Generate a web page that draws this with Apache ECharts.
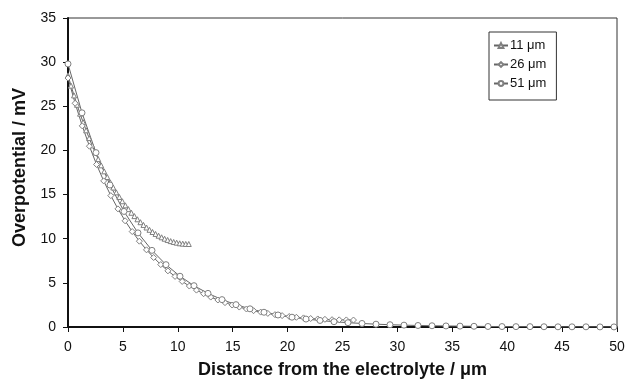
<!DOCTYPE html>
<html>
<head>
<meta charset="utf-8">
<script src="https://cdn.jsdelivr.net/npm/echarts@6/dist/echarts.min.js"></script>
<style>
  html, body { margin: 0; padding: 0; background: #fff; }
  #chart { width: 628px; height: 379px; }
</style>
</head>
<body>
<div id="chart"></div>
<script>
// 数据
var seriesNames = ['11 μm', '26 μm', '51 μm'];

var x11 = [0, 0.275, 0.55, 0.825, 1.1, 1.375, 1.65, 1.925, 2.2, 2.475, 2.75, 3.025, 3.3, 3.575, 3.85, 4.125, 4.4, 4.675, 4.95, 5.225,
    5.5, 5.775, 6.05, 6.325, 6.6, 6.875, 7.15, 7.425, 7.7, 7.975, 8.25, 8.525, 8.8, 9.075, 9.35, 9.625, 9.9, 10.175, 10.45, 10.725, 11];
var y11 = [28.5, 27.34, 26.23, 25.17, 24.16, 23.2, 22.28, 21.4, 20.57, 19.78, 19.02, 18.31, 17.63, 16.99, 16.38, 15.8, 15.25, 14.73, 14.24, 13.78,
    13.35, 12.94, 12.56, 12.2, 11.87, 11.56, 11.27, 11.01, 10.76, 10.54, 10.34, 10.16, 10.0, 9.86, 9.73, 9.63, 9.55, 9.48, 9.44, 9.41, 9.4];

var x26 = [0, 0.65, 1.3, 1.95, 2.6, 3.25, 3.9, 4.55, 5.2, 5.85, 6.5, 7.15, 7.8, 8.45, 9.1, 9.75, 10.4, 11.05, 11.7, 12.35,
    13, 13.65, 14.3, 14.95, 15.6, 16.25, 16.9, 17.55, 18.2, 18.85, 19.5, 20.15, 20.8, 21.45, 22.1, 22.75, 23.4, 24.05, 24.7, 25.35, 26];
var y26 = [28.2, 25.34, 22.78, 20.48, 18.41, 16.55, 14.88, 13.38, 12.03, 10.81, 9.72, 8.74, 7.87, 7.07, 6.36, 5.73, 5.16, 4.64, 4.18, 3.77,
    3.39, 3.06, 2.76, 2.49, 2.26, 2.04, 1.85, 1.69, 1.54, 1.4, 1.29, 1.19, 1.1, 1.03, 0.96, 0.91, 0.87, 0.83, 0.81, 0.8, 0.79];

var x51 = [0, 1.275, 2.55, 3.825, 5.1, 6.375, 7.65, 8.925, 10.2, 11.475, 12.75, 14.025, 15.3, 16.575, 17.85, 19.125, 20.4, 21.675, 22.95, 24.225,
    25.5, 26.775, 28.05, 29.325, 30.6, 31.875, 33.15, 34.425, 35.7, 36.975, 38.25, 39.525, 40.8, 42.075, 43.35, 44.625, 45.9, 47.175, 48.45, 49.725, 51];
var y51 = [29.8, 24.26, 19.75, 16.08, 13.09, 10.66, 8.68, 7.06, 5.75, 4.68, 3.81, 3.1, 2.53, 2.06, 1.67, 1.36, 1.11, 0.9, 0.74, 0.6,
    0.49, 0.4, 0.32, 0.26, 0.21, 0.17, 0.14, 0.12, 0.1, 0.08, 0.06, 0.05, 0.04, 0.04, 0.03, 0.02, 0.02, 0.02, 0.01, 0.01, 0.01];

function pairs(xs, ys) {
    var out = [];
    for (var i = 0; i < xs.length; i++) {
        out.push([xs[i], ys[i]]);
    }
    return out;
}

var chart = echarts.init(document.getElementById('chart'));

function makeSeries(name, xs, ys, symbol, size) {
    return {
        name: name,
        type: 'line',
        data: pairs(xs, ys),
        symbol: symbol,
        symbolSize: size,
        showSymbol: true,
        clip: true,
        lineStyle: { color: '#666', width: 1 },
        itemStyle: { color: '#fff', borderColor: '#808080', borderWidth: 1 }
    };
}

var option = {
    animation: false,
    backgroundColor: '#fff',
    textStyle: { fontFamily: 'Liberation Sans, Arial, sans-serif' },
    grid: {
        left: 68, right: 11, top: 18, bottom: 52,
        outerBoundsMode: 'none',
        containLabel: false,
        show: true, borderColor: '#333', borderWidth: 1
    },
    legend: {
        orient: 'vertical',
        left: 489, top: 32,
        padding: [7, 10, 10, 4],
        itemGap: 6,
        itemWidth: 14,
        itemHeight: 6,
        borderColor: '#333',
        borderWidth: 1,
        textStyle: { fontSize: 13, color: '#111', padding: [0, 0, 0, -3] },
        data: seriesNames
    },
    xAxis: {
        type: 'value',
        min: 0, max: 50, interval: 5,
        name: 'Distance from the electrolyte / μm',
        nameLocation: 'middle',
        nameGap: 34,
        nameTextStyle: { fontSize: 18, fontWeight: 'bold', color: '#111' },
        axisLine: { lineStyle: { color: '#111', width: 2 } },
        axisTick: { inside: false, length: 5, lineStyle: { color: '#111' } },
        axisLabel: { fontSize: 14, color: '#111', margin: 13 },
        splitLine: { show: false }
    },
    yAxis: {
        type: 'value',
        min: 0, max: 35, interval: 5,
        name: 'Overpotential / mV',
        nameLocation: 'middle',
        nameGap: 35,
        nameTextStyle: { fontSize: 18, fontWeight: 'bold', color: '#111', padding: [0, 0, 0, 10] },
        axisLine: { lineStyle: { color: '#111', width: 2 } },
        axisTick: { inside: false, length: 5, lineStyle: { color: '#111' } },
        axisLabel: { fontSize: 14, color: '#111', margin: 12 },
        splitLine: { show: false }
    },
    series: [
        makeSeries(seriesNames[0], x11, y11, 'triangle', 5),
        makeSeries(seriesNames[1], x26, y26, 'diamond', 6),
        makeSeries(seriesNames[2], x51, y51, 'circle', 6)
    ]
};

chart.setOption(option);
</script>
</body>
</html>
